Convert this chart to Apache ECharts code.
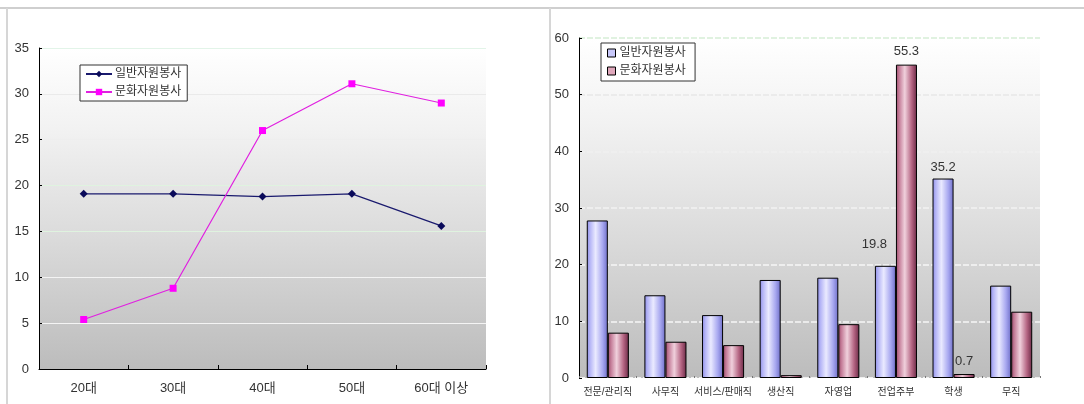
<!DOCTYPE html>
<html>
<head>
<meta charset="utf-8">
<script src="https://cdn.jsdelivr.net/npm/echarts@6/dist/echarts.min.js"></script>
<style>
  html, body { margin: 0; padding: 0; background: #fff; }
  #chart { width: 1084px; height: 404px; }
</style>
</head>
<body>
<div id="chart"></div>
<script>
// 연령대별 자원봉사 참여율 (선 그래프)
const ageGroups = ['20대', '30대', '40대', '50대', '60대 이상'];
const ageGeneral = [19.1, 19.1, 18.8, 19.1, 15.6];
const ageCulture = [5.4, 8.8, 26.0, 31.1, 29.0];

// 직업별 자원봉사 참여율 (막대 그래프)
const jobs = ['전문/관리직', '사무직', '서비스/판매직', '생산직', '자영업', '전업주부', '학생', '무직'];
const jobGeneral = [27.8, 14.6, 11.1, 17.3, 17.7, 19.8, 35.2, 16.3];
const jobCulture = [8.0, 6.4, 5.8, 0.5, 9.5, 55.3, 0.7, 11.7];
// 값이 표시되는 막대
const labelledGeneral = [5, 6];
const labelledCulture = [5, 6];

const leftTicks = [0, 5, 10, 15, 20, 25, 30, 35];
const rightTicks = [0, 10, 20, 30, 40, 50, 60];

const FONT = "'Liberation Sans', 'Noto Sans CJK KR', sans-serif";
const TEXT = '#333';

const plotBg = {
  type: 'linear', x: 0, y: 0, x2: 0, y2: 1,
  colorStops: [
    { offset: 0, color: '#ffffff' },
    { offset: 0.25, color: '#f2f2f2' },
    { offset: 0.6, color: '#dadada' },
    { offset: 1, color: '#bcbcbc' }
  ]
};

function barGradient(stops) {
  return {
    type: 'linear', x: 0, y: 0, x2: 1, y2: 0,
    colorStops: stops.map(s => ({ offset: s[0], color: s[1] }))
  };
}
const blueFill = barGradient([[0, '#8c8ce6'], [0.15, '#b4b4f6'], [0.42, '#eaeaff'], [0.75, '#a8a8f0'], [1, '#6e6ec8']]);
const redFill = barGradient([[0, '#9a4a6a'], [0.15, '#c47c98'], [0.42, '#f0d0dc'], [0.75, '#b46482'], [1, '#6a2a46']]);

function labelled(values, indices, extra) {
  return values.map((v, i) => {
    if (indices.indexOf(i) < 0) return v;
    const lbl = { show: true, position: 'top', color: TEXT, fontSize: 13, fontFamily: FONT };
    if (extra && extra[i]) Object.assign(lbl, extra[i]);
    return { value: v, label: lbl };
  });
}

const chart = echarts.init(document.getElementById('chart'), null, { renderer: 'canvas' });

chart.setOption({
  animation: false,
  textStyle: { fontFamily: FONT, color: TEXT },
  graphic: [
    { type: 'line', shape: { x1: 0, y1: 8, x2: 1084, y2: 8 }, style: { stroke: '#cfcfcf', lineWidth: 2 }, silent: true },
    { type: 'line', shape: { x1: 7, y1: 8, x2: 7, y2: 404 }, style: { stroke: '#d6d6d6', lineWidth: 2 }, silent: true },
    { type: 'line', shape: { x1: 550, y1: 8, x2: 550, y2: 404 }, style: { stroke: '#d6d6d6', lineWidth: 2 }, silent: true }
  ],
  grid: [
    { left: 39, top: 48, width: 447, height: 321, show: true, backgroundColor: plotBg, borderWidth: 0 },
    { left: 579, top: 38, width: 461, height: 340, show: true, backgroundColor: plotBg, borderWidth: 0 }
  ],
  legend: [
    {
      seriesIndex: [0, 1],
      data: ['일반자원봉사', '문화자원봉사'],
      orient: 'vertical',
      left: 80, top: 65,
      width: 106,
      padding: [3, 6, 3, 5],
      itemGap: 6,
      itemWidth: 26, itemHeight: 8,
      backgroundColor: '#fff',
      borderColor: '#333', borderWidth: 1,
      textStyle: { fontSize: 12, color: TEXT, fontFamily: FONT, padding: [0, 0, 0, -2] }
    },
    {
      data: [
        { name: '일반자원봉사 ', icon: 'rect', itemStyle: { color: '#c8c8fa', borderColor: '#000', borderWidth: 1 } },
        { name: '문화자원봉사 ', icon: 'rect', itemStyle: { color: '#e0a8bc', borderColor: '#000', borderWidth: 1 } }
      ],
      orient: 'vertical',
      left: 601, top: 43,
      padding: [4, 6, 4, 6],
      itemGap: 6,
      itemWidth: 8, itemHeight: 8,
      backgroundColor: '#fff',
      borderColor: '#333', borderWidth: 1,
      textStyle: { fontSize: 12, color: TEXT, fontFamily: FONT, padding: [0, 0, 0, -1] }
    }
  ],
  xAxis: [
    {
      gridIndex: 0, type: 'category', data: ageGroups, boundaryGap: true,
      axisLine: { lineStyle: { color: '#000', width: 1 } },
      axisTick: { show: true, inside: true, length: 4, lineStyle: { color: '#000' } },
      axisLabel: { fontSize: 13, color: TEXT, margin: 13, fontFamily: FONT, interval: 0 },
      splitLine: { show: false }
    },
    {
      gridIndex: 1, type: 'category', data: jobs, boundaryGap: true,
      axisLine: { show: false },
      axisTick: { show: true, inside: true, length: 2, lineStyle: { color: '#777' } },
      axisLabel: { fontSize: 10, color: TEXT, margin: 9, fontFamily: FONT, interval: 0 },
      splitLine: { show: false }
    }
  ],
  yAxis: [
    {
      gridIndex: 0, type: 'value', min: leftTicks[0], max: leftTicks[leftTicks.length - 1], interval: 5,
      axisLine: { show: true, lineStyle: { color: '#000', width: 1 } },
      axisTick: { show: true, inside: true, length: 3, lineStyle: { color: '#000' } },
      axisLabel: { fontSize: 13, color: TEXT, margin: 10, fontFamily: FONT },
      splitLine: {
        show: true,
        lineStyle: { color: ['#ffffff', '#f4f4f4', '#f4f4f4', '#dff3df', '#dff3df', '#eeeeee', '#eaeaea', '#e2f4e8'], width: 1 }
      }
    },
    {
      gridIndex: 1, type: 'value', min: rightTicks[0], max: rightTicks[rightTicks.length - 1], interval: 10,
      axisLine: { show: true, lineStyle: { color: '#000', width: 1 } },
      axisTick: { show: true, inside: true, length: 3, lineStyle: { color: '#000' } },
      axisLabel: { fontSize: 13, color: TEXT, margin: 10, fontFamily: FONT },
      splitLine: {
        show: true,
        lineStyle: { type: [6, 2], color: ['#ffffff', '#f6f6f6', '#f6f6f6', '#f2f2f2', '#f0f0f0', '#e8e8e8', '#d6eed6'], width: 1.5 }
      }
    }
  ],
  series: [
    {
      name: '일반자원봉사', type: 'line', xAxisIndex: 0, yAxisIndex: 0,
      data: ageGeneral,
      symbol: 'diamond', symbolSize: 8,
      lineStyle: { color: '#1a1a6e', width: 1.2 },
      itemStyle: { color: '#0a0a5a' }
    },
    {
      name: '문화자원봉사', type: 'line', xAxisIndex: 0, yAxisIndex: 0,
      data: ageCulture,
      symbol: 'rect', symbolSize: 7,
      lineStyle: { color: '#e020e0', width: 1.2 },
      itemStyle: { color: '#ff00ff' }
    },
    {
      name: '일반자원봉사 ', type: 'bar', xAxisIndex: 1, yAxisIndex: 1,
      data: labelled(jobGeneral, labelledGeneral, { 5: { offset: [-11, -10] } }),
      barGap: '0%', barCategoryGap: '27%',
      itemStyle: { color: blueFill, borderColor: '#000', borderWidth: 1 },
      label: { show: false }
    },
    {
      name: '문화자원봉사 ', type: 'bar', xAxisIndex: 1, yAxisIndex: 1,
      data: labelled(jobCulture, labelledCulture, { 5: { distance: 7 }, 6: { distance: 6 } }),
      barGap: '0%', barCategoryGap: '27%',
      itemStyle: { color: redFill, borderColor: '#000', borderWidth: 1 },
      label: { show: false }
    }
  ]
});
</script>
</body>
</html>
